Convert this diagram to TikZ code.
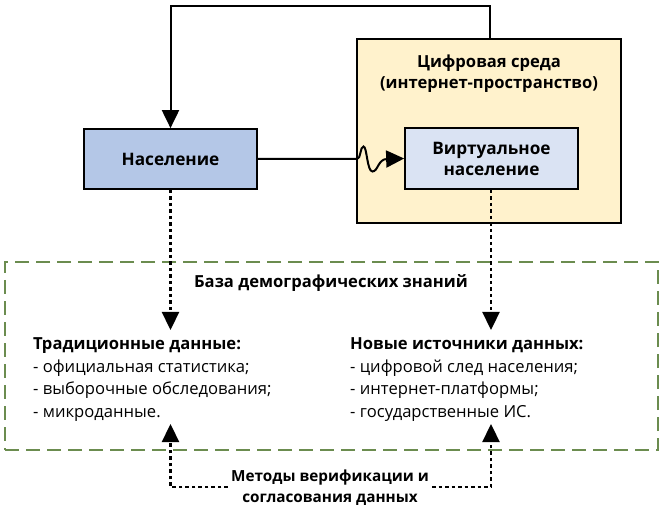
\documentclass[tikz,border=0pt]{standalone}
\usepackage{fontspec}
\setmainfont{Open Sans}
\usetikzlibrary{arrows.meta}
\definecolor{popblue}{HTML}{B4C7E7}
\definecolor{virtblue}{HTML}{DAE3F3}
\definecolor{envyellow}{HTML}{FFF2CC}
\definecolor{kbgreen}{HTML}{6B8C4F}
\tikzset{
  boxstyle/.style={draw=black, line width=1.7pt, inner sep=0pt, anchor=center},
  tip/.style={-{Triangle[length=18pt,width=17pt]}},
  conn/.style={line width=2pt, tip},
  dotconn/.style={line width=2.3pt, dash pattern=on 3.5pt off 3pt, tip},
  txt/.style={inner sep=0pt, font=\fontsize{16.6pt}{22.4pt}\selectfont, align=left},
  btxt/.style={inner sep=0pt, font=\fontsize{16.6pt}{21pt}\selectfont\bfseries, align=center},
}
\begin{document}
\begin{tikzpicture}[x=1pt,y=-1pt]
\useasboundingbox (0,0) rectangle (666,510);
% knowledge base dashed box
\node[draw=kbgreen, line width=1.8pt, dash pattern=on 14pt off 7pt, inner sep=0pt,
      minimum width=653pt, minimum height=188pt] (kb) at (331.5,356) {};
% digital environment
\node[boxstyle, fill=envyellow, minimum width=264pt, minimum height=184pt] (env) at (489,131) {};
\node[btxt] (envtitle) at (489,73.5) {Цифровая среда\\(интернет-пространство)};
% population
\node[boxstyle, fill=popblue, minimum width=173pt, minimum height=60pt,
      font=\fontsize{17.2pt}{21pt}\selectfont\bfseries] (pop) at (170.5,159) {Население};
% virtual population
\node[boxstyle, fill=virtblue, minimum width=173pt, minimum height=61pt,
      font=\fontsize{17.2pt}{21pt}\selectfont\bfseries, align=center] (virt) at (491.5,158.5) {Виртуальное\\население};
% texts
\node[btxt] (kbtitle) at (331,283) {База демографических знаний};
\node[txt, anchor=west] (trad) at (33,379.5) {\textbf{Традиционные данные:}\\- официальная статистика;\\- выборочные обследования;\\- микроданные.};
\node[txt, anchor=west] (newsrc) at (350,379.5) {\textbf{Новые источники данных:}\\- цифровой след населения;\\- интернет-платформы;\\- государственные ИС.};
\node[btxt, inner sep=3pt, font=\fontsize{15.3pt}{21pt}\selectfont\bfseries] (methods) at (330,487.5) {Методы верификации и\\согласования данных};
% coordinates
\coordinate (fbR) at (490,6);
\coordinate (fbL) at (170.5,6);
\coordinate (tipL) at (170.5,330);
\coordinate (tipR) at (491,330);
\coordinate (mL) at (170.5,487);
\coordinate (mR) at (491,487);
\coordinate (upL) at (170.5,424);
\coordinate (upR) at (491,424);
\coordinate (wv) at (357,159);
% feedback connector
\draw[conn] (env.north -| fbR) -- (fbR) -- (fbL) -- (pop.north);
% wavy connector
\draw[conn] (pop.east) -- (wv) .. controls (361,159) and (360,146.5) .. (363.5,146.5)
   .. controls (367,146.5) and (367,171.5) .. (372.5,171.5)
   .. controls (378,171.5) and (378,159) .. (387,159) -- (virt.west);
% dotted down
\draw[dotconn] (pop.south) -- (tipL);
\draw[dotconn] (virt.south -| tipR) -- (tipR);
% verification
\draw[dotconn] (methods.west |- mL) -- (mL) -- (upL);
\draw[dotconn] (methods.east |- mR) -- (mR) -- (upR);
\end{tikzpicture}
\end{document}
